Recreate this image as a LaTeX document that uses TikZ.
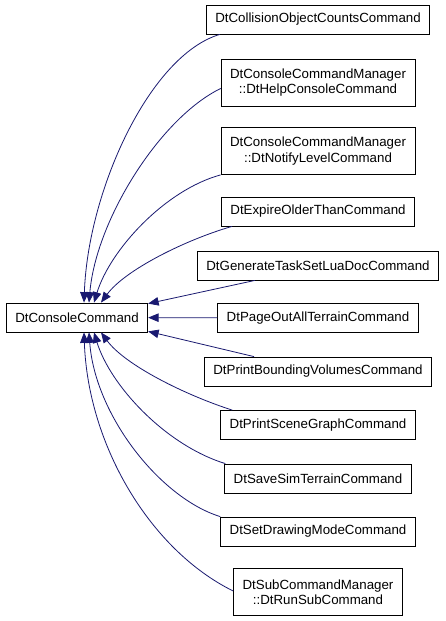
\documentclass[tikz,border=0pt]{standalone}
\usepackage{fontspec}
\setmainfont{Liberation Sans}
\usetikzlibrary{arrows.meta}
\definecolor{midnightblue}{RGB}{25,25,112}

\begin{document}
\begin{tikzpicture}[
  x=1pt, y=-1pt,
  every node/.style = {draw, rectangle, font=\fontsize{13.3}{15.5}\selectfont, line width=0.8pt, inner xsep=9pt, inner ysep=0pt, minimum height=29pt, align=center},
  tall/.style = {minimum height=47pt},
  link/.style = {midnightblue, line width=0.8pt, -{Triangle[length=10.5pt,width=8.5pt]}}
]
  \useasboundingbox[fill=white] (0,0) rectangle (445,621);

  % base class
  \node (base) at (77,317.5) {DtConsoleCommand};

  % derived classes
  \node (collision) at (318,19.5) {DtCollisionObjectCountsCommand};
  \node[tall] (help) at (318,82.5) {DtConsoleCommandManager\\::DtHelpConsoleCommand};
  \node[tall] (notify) at (318,151) {DtConsoleCommandManager\\::DtNotifyLevelCommand};
  \node (expire) at (318,211.5) {DtExpireOlderThanCommand};
  \node (luadoc) at (318,265.5) {DtGenerateTaskSetLuaDocCommand};
  \node (pageout) at (318,318) {DtPageOutAllTerrainCommand};
  \node (bounding) at (318,371.5) {DtPrintBoundingVolumesCommand};
  \node (scenegraph) at (318,425) {DtPrintSceneGraphCommand};
  \node (saveterrain) at (318,478.5) {DtSaveSimTerrainCommand};
  \node (drawmode) at (318,531.5) {DtSetDrawingModeCommand};
  \node[tall] (runsub) at (318,592) {DtSubCommandManager\\::DtRunSubCommand};

  % inheritance edges
  \draw[link] ([xshift=14pt]collision.south west) .. controls (150,55) and (88,190) .. ([xshift=7pt]base.north);
  \draw[link] ([yshift=-6pt]help.west) .. controls (160,118) and (96,220) .. ([xshift=12pt]base.north);
  \draw[link] (notify.south west) .. controls (165,190) and (110,250) .. ([xshift=17pt]base.north);
  \draw[link] ([xshift=11pt]expire.south west) .. controls (185,240) and (125,270) .. ([xshift=24pt]base.north);
  \draw[link] ([xshift=58pt]luadoc.south west) -- ([yshift=-1pt]base.north east);
  \draw[link] (pageout) -- (base);
  \draw[link] ([xshift=50pt]bounding.north west) -- ([yshift=1pt]base.south east);
  \draw[link] ([xshift=12pt]scenegraph.north west) .. controls (185,395) and (125,365) .. ([xshift=24pt]base.south);
  \draw[link] ([xshift=1pt]saveterrain.north west) .. controls (165,445) and (110,385) .. ([xshift=17pt]base.south);
  \draw[link] (drawmode.north west) .. controls (160,498) and (95,415) .. ([xshift=12pt]base.south);
  \draw[link] ([yshift=1pt]runsub.west) .. controls (150,550) and (88,445) .. ([xshift=7pt]base.south);
\end{tikzpicture}
\end{document}
